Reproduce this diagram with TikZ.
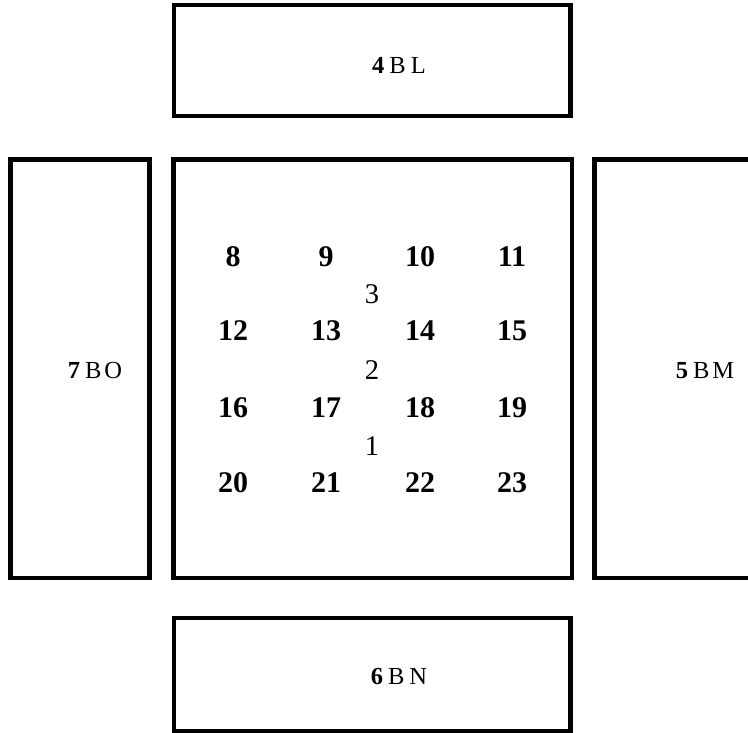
\documentclass[tikz,border=0pt]{standalone}
\usepackage{fontspec}
\setmainfont{Liberation Serif}
\begin{document}
\begin{tikzpicture}[x=1pt,y=-1pt,
  boxshape/.style={draw=black, line width=4.5pt, fill=none, inner sep=0pt, outer sep=0pt},
  lbl/.style={anchor=base, inner sep=0pt, font=\fontsize{24.5}{26}\selectfont},
  big/.style={anchor=base, inner sep=0pt, font=\fontsize{30}{32}\selectfont\bfseries},
  small/.style={anchor=base, inner sep=0pt, font=\fontsize{28.5}{30}\selectfont}]
\useasboundingbox (0,0) rectangle (748,733);
\clip (0,0) rectangle (748,733);
% boxes
\node[boxshape, minimum width=396.5pt, minimum height=111pt] (top) at (372.25,60.5) {};
\node[boxshape, minimum width=396.5pt, minimum height=113pt] (bottom) at (372.25,674.5) {};
\node[boxshape, minimum width=139.2pt, minimum height=418.3pt] (left) at (80.1,368.85) {};
\node[boxshape, minimum width=398.5pt, minimum height=418.3pt] (center) at (372.75,368.85) {};
\node[boxshape, minimum width=170pt, minimum height=418.3pt] (right) at (679.5,368.85) {};
% box labels
\node[lbl] (ltop) at (399,74) {\textbf{4}\kern5pt B\kern5pt L};
\node[lbl] (lbottom) at (399,684) {\textbf{6}\kern5pt B\kern5pt N};
\node[lbl] (lleft) at (95,378) {\textbf{7}\kern5pt B\kern3pt O};
\node[lbl] (lright) at (705,378) {\textbf{5}\kern5pt B\kern3pt M};
% grid
\node[big] (n8)  at (233,267) {8};
\node[big] (n9)  at (326,267) {9};
\node[big] (n10) at (420,267) {10};
\node[big] (n11) at (512,267) {11};
\node[big] (n12) at (233,341) {12};
\node[big] (n13) at (326,341) {13};
\node[big] (n14) at (420,341) {14};
\node[big] (n15) at (512,341) {15};
\node[big] (n16) at (233,417) {16};
\node[big] (n17) at (326,417) {17};
\node[big] (n18) at (420,417) {18};
\node[big] (n19) at (512,417) {19};
\node[big] (n20) at (233,492) {20};
\node[big] (n21) at (326,492) {21};
\node[big] (n22) at (420,492) {22};
\node[big] (n23) at (512,492) {23};
\node[small] (s3) at (372,304) {3};
\node[small] (s2) at (372,379) {2};
\node[small] (s1) at (372,455) {1};
\end{tikzpicture}
\end{document}
